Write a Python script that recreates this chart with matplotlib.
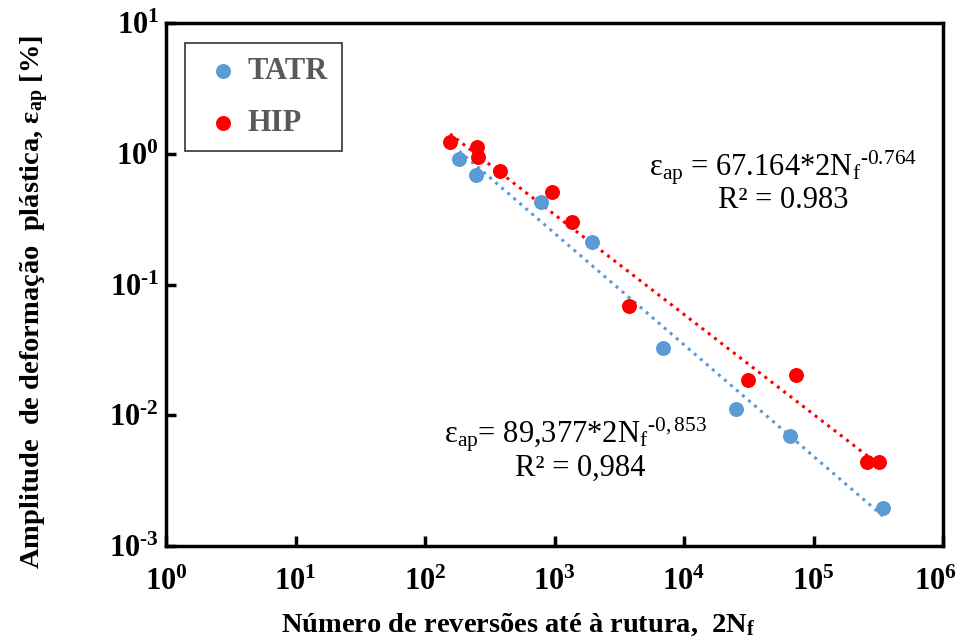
# Curva de Coffin-Manson: amplitude de deformação plástica vs 2Nf (TATR e HIP)
import numpy as np
import matplotlib
matplotlib.use("Agg")
import matplotlib.pyplot as plt
from matplotlib.transforms import ScaledTranslation

plt.rcParams.update({
    "font.family": "Liberation Serif",
    "mathtext.fontset": "custom",
    "mathtext.rm": "Liberation Serif",
    "mathtext.it": "Liberation Serif:italic",
    "mathtext.bf": "Liberation Serif:bold",
})

AZUL = "#5B9BD5"
VERMELHO = "#FF0000"
W, H = 957, 639

# dados
tatr_2nf = [184, 248, 782, 1959, 6850, 25070, 65900, 346000]
tatr_eap = [0.912, 0.688, 0.425, 0.210, 0.0329, 0.0111, 0.0069, 0.00196]
hip_2nf = [156, 253, 258, 379, 951, 1372, 3741, 31400, 72900, 257600, 322200]
hip_eap = [1.223, 1.13, 0.949, 0.735, 0.513, 0.299, 0.0689, 0.0185, 0.0204, 0.0044, 0.0044]

# coeficientes das linhas de tendência (potência)
tatr_a, tatr_b = 89.377, -0.853
hip_a, hip_b = 67.164, -0.764

x_exp = [0, 1, 2, 3, 4, 5, 6]
y_exp = [-3, -2, -1, 0, 1]

fig = plt.figure(figsize=(W / 100, H / 100), dpi=100)
ax = fig.add_axes([166 / W, 1 - 546 / H, (943 - 166) / W, (546 - 23) / H])

ax.scatter(tatr_2nf, tatr_eap, s=95, color=AZUL, zorder=3, label="TATR")
ax.scatter(hip_2nf, hip_eap, s=95, color=VERMELHO, zorder=3, label="HIP")

xt = np.geomspace(min(tatr_2nf), max(tatr_2nf), 50)
ax.plot(xt, tatr_a * xt ** tatr_b, ls=(0, (1, 1.6)), lw=2.2, color=AZUL, zorder=2)
xh = np.geomspace(min(hip_2nf), max(hip_2nf), 50)
ax.plot(xh, hip_a * xh ** hip_b, ls=(0, (1, 1.6)), lw=2.2, color=VERMELHO, zorder=2)

def rotulo(e):
    s = str(e).replace("-", "‐")
    return r"$\mathbf{10^{%s}}$" % s

ax.set_xscale("log"); ax.set_yscale("log")
ax.set_xlim(1, 1e6); ax.set_ylim(1e-3, 1e1)
ax.set_xticks([10.0 ** e for e in x_exp])
ax.set_xticklabels([rotulo(e) for e in x_exp])
ax.set_yticks([10.0 ** e for e in y_exp])
ax.set_yticklabels([rotulo(e) for e in y_exp])
ax.minorticks_off()
ax.tick_params(axis="both", direction="in", length=7, width=2.5, labelsize=22)
ax.tick_params(axis="x", pad=16)
ax.tick_params(axis="y", pad=5)
for s in ax.spines.values():
    s.set_linewidth(2.5)

# o último rótulo do eixo x fica um pouco para dentro, como no original
ultimo = ax.get_xticklabels()[-1]
ultimo.set_transform(ultimo.get_transform() + ScaledTranslation(-8 / 100, 0, fig.dpi_scale_trans))

ax.set_xlabel(r"Número de reversões até à rutura,  2N$_{\mathbf{f}}$",
              fontsize=20.5, fontweight="bold")
ax.set_ylabel(r"Amplitude  de deformação  plástica, ε$_{\mathbf{ap}}$ [%]",
              fontsize=20.5, fontweight="bold")
ax.xaxis.set_label_coords((518 - 166) / 777, -(611 - 546) / 523)
ax.yaxis.set_label_coords((51 - 166) / 777, 1 - (302 - 23) / 523)

leg = ax.legend(loc="upper left", bbox_to_anchor=(19 / 777, 1 - 20 / 523),
                prop={"weight": "bold", "size": 22}, frameon=True, fancybox=False,
                borderpad=0.45, labelspacing=0.75, handletextpad=0.0,
                handlelength=1.6, markerscale=1.0, borderaxespad=0)
leg.get_frame().set_edgecolor("black")
leg.get_frame().set_linewidth(1.2)
for t in leg.get_texts():
    t.set_color("#595959")

def texto(x, y, s):
    fig.text(x / W, 1 - y / H, s, fontsize=22, ha="center", va="center")

texto(783, 168, r"ε$_{\mathrm{ap}}$ = 67.164*2N$_{\mathrm{f}}{}^{\mathrm{‐0.764}}$")
texto(783, 201, "R² = 0.983")
texto(575, 435, r"ε$_{\mathrm{ap}}$= 89,377*2N$_{\mathrm{f}}{}^{\mathrm{‐0,853}}$")
texto(580, 468, "R² = 0,984")

fig.savefig("out.png", dpi=100)
